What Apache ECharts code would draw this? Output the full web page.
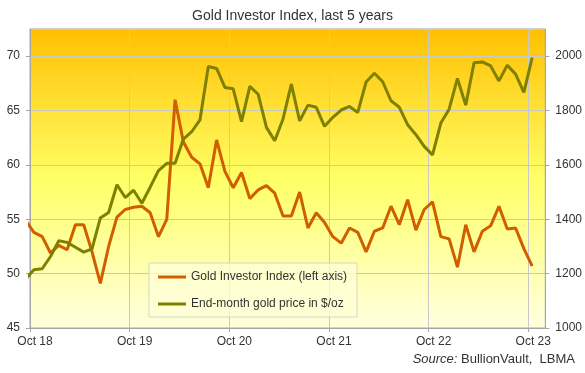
<!DOCTYPE html>
<html>
<head>
<meta charset="utf-8">
<script src="https://cdn.jsdelivr.net/npm/echarts@6/dist/echarts.min.js"></script>
<style>
html,body{margin:0;padding:0;background:#fff;}
#chart{width:585px;height:373px;}
</style>
</head>
<body>
<div id="chart"></div>
<script>
// Months from Sep 2018 (first point, clipped at left edge) to Oct 2023
const months = (function(){
  const out = [];
  let y = 2018, m = 9;
  while (y < 2023 || (y === 2023 && m <= 10)) {
    out.push(y + '-' + (m < 10 ? '0' + m : m));
    m++; if (m > 12) { m = 1; y++; }
  }
  return out;
})();

// Gold Investor Index (left axis)
const giiValues = [
  54.9,
  53.8, 53.4, 51.9, 52.6, 52.2, 54.5, 54.5, 52.0, 49.1, 52.5, 55.2, 55.9,
  56.1, 56.2, 55.6, 53.4, 55.0, 66.0, 62.1, 60.7, 60.1, 57.9, 62.3, 59.4,
  57.9, 59.3, 56.9, 57.7, 58.1, 57.4, 55.3, 55.3, 57.5, 54.2, 55.6, 54.7,
  53.4, 52.8, 54.2, 53.8, 52.0, 53.9, 54.2, 56.2, 54.5, 56.8, 54.0, 55.9,
  56.6, 53.4, 53.2, 50.6, 54.5, 52.0, 53.9, 54.4, 56.2, 54.1, 54.2, 52.3,
  50.7
];

// End-month gold price, $/oz (right axis)
const goldValues = [
  1180,
  1214, 1218, 1263, 1321, 1315, 1297, 1279, 1291, 1405, 1425, 1527, 1480,
  1507, 1459, 1518, 1579, 1606, 1606, 1695, 1722, 1766, 1962, 1955, 1885,
  1880, 1759, 1889, 1860, 1738, 1689, 1769, 1897, 1762, 1820, 1812, 1742,
  1775, 1802, 1815, 1793, 1905, 1937, 1906, 1836, 1812, 1748, 1711, 1668,
  1637, 1754, 1805, 1918, 1820, 1976, 1979, 1964, 1909, 1967, 1934, 1867,
  1995
];

const xTickLabels = ['Oct 18', 'Oct 19', 'Oct 20', 'Oct 21', 'Oct 22', 'Oct 23'];
const leftTicks = [45, 50, 55, 60, 65, 70];
const rightTicks = [1000, 1200, 1400, 1600, 1800, 2000];
const seriesNames = ['Gold Investor Index (left axis)', 'End-month gold price in $/oz'];

// x value: months since Oct 2018, plotted mid-month
function monthPos(ym) {
  const [y, m] = ym.split('-').map(Number);
  return (y - 2018) * 12 + (m - 10) + 0.47;
}
const giiData = months.map((ym, i) => [monthPos(ym), giiValues[i]]);
const goldData = months.map((ym, i) => [monthPos(ym), goldValues[i]]);

const chart = echarts.init(document.getElementById('chart'), null, {renderer: 'canvas'});
const labelColor = '#333333';
const gridColor = '#C8C8C8';
const axisColor = '#A6A6A6';
const font = 'Arial, "Liberation Sans", sans-serif';

chart.setOption({
  animation: false,
  textStyle: {fontFamily: font},
  title: [
    {
      text: 'Gold Investor Index, last 5 years',
      left: 'center', top: 4,
      textStyle: {fontSize: 14, fontWeight: 'normal', color: labelColor, fontFamily: font}
    },
    {
      text: '{i|Source:} BullionVault,  LBMA',
      right: 5, bottom: 2,
      textStyle: {
        fontSize: 13, fontWeight: 'normal', color: labelColor, fontFamily: font,
        rich: {i: {fontStyle: 'italic', fontSize: 13, color: labelColor, fontFamily: font}}
      }
    }
  ],
  grid: {
    left: 30, right: 39, top: 29, bottom: 45,
    show: true,
    borderColor: axisColor, borderWidth: 1,
    backgroundColor: new echarts.graphic.LinearGradient(0, 0, 0, 1, [
      {offset: 0, color: '#FFC000'},
      {offset: 0.5, color: '#FFFF66'},
      {offset: 1, color: '#FFFFE0'}
    ])
  },
  legend: {
    left: 149, top: 263,
    orient: 'vertical',
    icon: 'rect',
    itemWidth: 28, itemHeight: 3,
    itemGap: 13,
    padding: [7, 10, 6, 9],
    backgroundColor: 'rgba(255,255,215,0.75)',
    borderColor: '#D6D6C4', borderWidth: 1,
    textStyle: {fontSize: 12, color: labelColor, lineHeight: 14, fontFamily: font},
    data: seriesNames
  },
  xAxis: {
    type: 'value',
    min: 0, max: 62.05, interval: 12,
    axisLine: {show: true, lineStyle: {color: axisColor}},
    axisTick: {show: true, length: 4, lineStyle: {color: axisColor}},
    splitLine: {show: true, lineStyle: {color: gridColor, width: 1}},
    axisLabel: {
      fontSize: 12, color: labelColor, margin: 8, padding: [0, 0, 0, 10],
      showMaxLabel: false,
      formatter: v => xTickLabels[Math.round(v / 12)] || ''
    }
  },
  yAxis: [
    {
      type: 'value', min: 45, max: 72.5, interval: 5,
      axisLine: {show: true, lineStyle: {color: axisColor}},
      axisTick: {show: true, length: 4, lineStyle: {color: axisColor}},
      splitLine: {show: true, lineStyle: {color: gridColor, width: 1}},
      axisLabel: {
        fontSize: 12, color: labelColor, margin: 10, showMaxLabel: false,
        formatter: v => leftTicks.indexOf(v) >= 0 ? String(v) : ''
      }
    },
    {
      type: 'value', min: 1000, max: 2100, interval: 200,
      position: 'right',
      axisLine: {show: true, lineStyle: {color: axisColor}},
      axisTick: {show: true, length: 4, lineStyle: {color: axisColor}},
      splitLine: {show: false},
      axisLabel: {
        fontSize: 12, color: labelColor, margin: 10, showMaxLabel: false,
        formatter: v => rightTicks.indexOf(v) >= 0 ? String(v) : ''
      }
    }
  ],
  series: [
    {
      name: seriesNames[0], type: 'line', yAxisIndex: 0,
      data: giiData, showSymbol: false, symbol: 'none',
      lineStyle: {color: '#D05E00', width: 3},
      itemStyle: {color: '#D05E00'},
      clip: true
    },
    {
      name: seriesNames[1], type: 'line', yAxisIndex: 1,
      data: goldData, showSymbol: false, symbol: 'none',
      lineStyle: {color: '#7F7F00', width: 3},
      itemStyle: {color: '#7F7F00'},
      clip: true
    }
  ]
});
</script>
</body>
</html>
